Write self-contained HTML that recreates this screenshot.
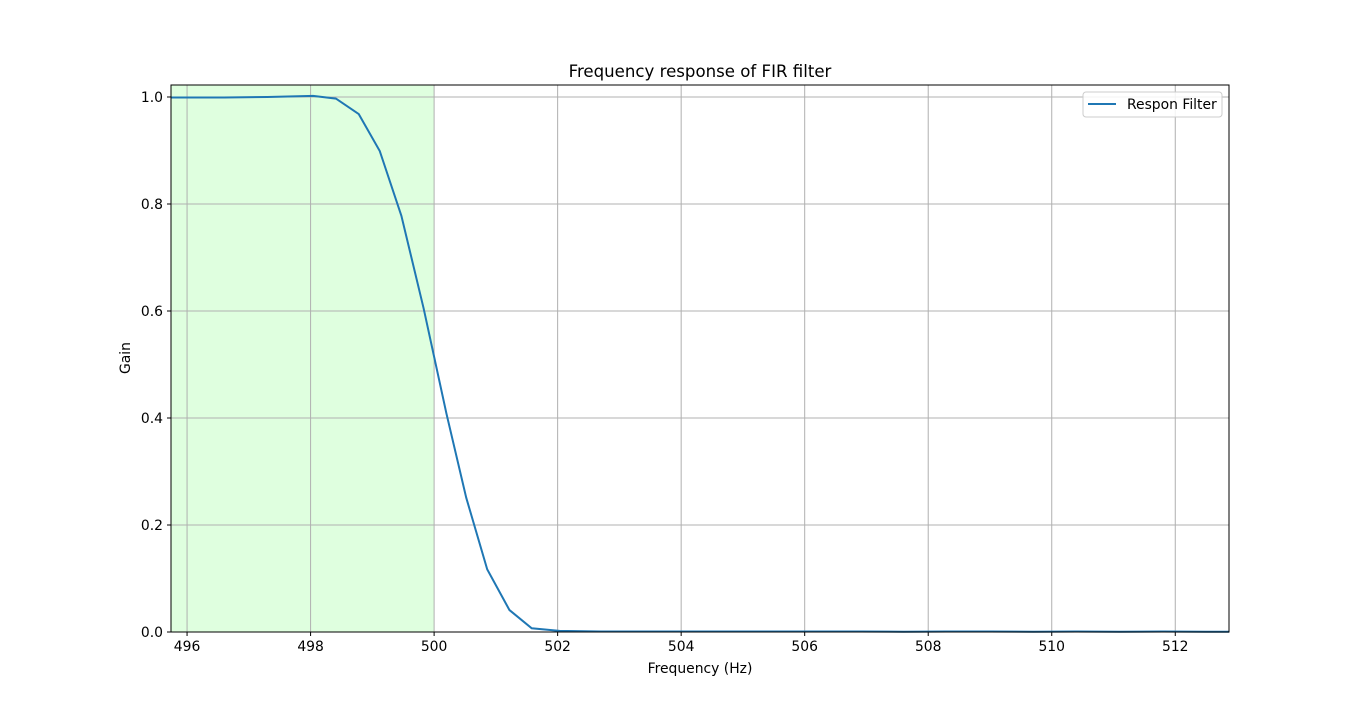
<!DOCTYPE html>
<html><head><meta charset="utf-8">
<style>
body{margin:0;background:#fff;font-family:"DejaVu Sans","Liberation Sans",sans-serif;}
svg text{font-family:"DejaVu Sans","Liberation Sans",sans-serif;}
</style></head>
<body>
<svg id="chart" width="1366" height="711" xmlns="http://www.w3.org/2000/svg">
<rect width="1366" height="711" fill="#fff"/>
<g id="plot"></g>
</svg>
<script>
const freqs=[495.74,496.6,497.3,498.04,498.41,498.78,499.12,499.47,499.83,500.2,500.52,500.86,501.22,501.58,502.03,502.7,503.4,504.1,504.8,505.5,506.2,506.9,507.6,508.3,509.0,509.7,510.4,511.1,511.8,512.5,512.87];
const gains=[0.999,0.999,1.0,1.002,0.997,0.968,0.899,0.778,0.605,0.408,0.251,0.117,0.041,0.007,0.002,0.001,0.001,0.001,0.001,0.001,0.001,0.001,0.0005,0.001,0.001,0.0005,0.001,0.0005,0.001,0.0005,0.0005];
const xTicks=[496,498,500,502,504,506,508,510,512];
const yTicks=[0.0,0.2,0.4,0.6,0.8,1.0];
const passband=[495.74,500];
const L=171,R=1229,T=85,B=632,X0=495.74,X1=512.87,Y0=0,Y1=1.0224;
const sx=v=>L+(v-X0)/(X1-X0)*(R-L);
const sy=v=>B-(v-Y0)/(Y1-Y0)*(B-T);
const NS="http://www.w3.org/2000/svg";
const g=document.getElementById('plot');
function mk(t,a,p){const e=document.createElementNS(NS,t);for(const k in a)e.setAttribute(k,a[k]);(p||g).appendChild(e);return e;}
let r=mk('rect',{x:sx(passband[0]),y:T,width:sx(passband[1])-sx(passband[0]),height:B-T,fill:'#dfffdf'});


xTicks.forEach(v=>{const x=sx(v);
 let l=mk('line',{x1:x,x2:x,y1:T,y2:B,stroke:'#b0b0b0','stroke-width':1});
 
 
 mk('line',{x1:x,x2:x,y1:B,y2:B+4,stroke:'#000','stroke-width':1});
 let t=mk('text',{x:x,y:B+19,'text-anchor':'middle','font-size':13.9});t.textContent=v;
 
 
});
yTicks.forEach(v=>{const y=sy(v);
 let l=mk('line',{x1:L,x2:R,y1:y,y2:y,stroke:'#b0b0b0','stroke-width':1});
 
 
 mk('line',{x1:L-4,x2:L,y1:y,y2:y,stroke:'#000','stroke-width':1});
 let t=mk('text',{x:L-8,y:y+5,'text-anchor':'end','font-size':13.9});t.textContent=v.toFixed(1);
 
 
});
let p=mk('polyline',{points:freqs.map((f,i)=>sx(f)+','+sy(gains[i])).join(' '),fill:'none',stroke:'#1f77b4','stroke-width':2});


let fr=mk('rect',{x:L,y:T,width:R-L,height:B-T,fill:'none',stroke:'#000','stroke-width':1});


let ti=mk('text',{x:(L+R)/2,y:77,'text-anchor':'middle','font-size':16.6});ti.textContent='Frequency response of FIR filter';


let xl=mk('text',{x:(L+R)/2,y:673,'text-anchor':'middle','font-size':13.9});xl.textContent='Frequency (Hz)';


let yl=mk('text',{x:130,y:358,'text-anchor':'middle','font-size':13.9,transform:'rotate(-90 130 358)'});yl.textContent='Gain';


let lg=mk('g',{});


mk('rect',{x:1083,y:92,width:139,height:25,rx:3,fill:'#fff','fill-opacity':0.85,stroke:'#ccc'},lg);
mk('line',{x1:1088,x2:1116,y1:104,y2:104,stroke:'#1f77b4','stroke-width':2},lg);
let lt=mk('text',{x:1127,y:109,'font-size':13.9},lg);lt.textContent='Respon Filter';


</script>
</body></html>
